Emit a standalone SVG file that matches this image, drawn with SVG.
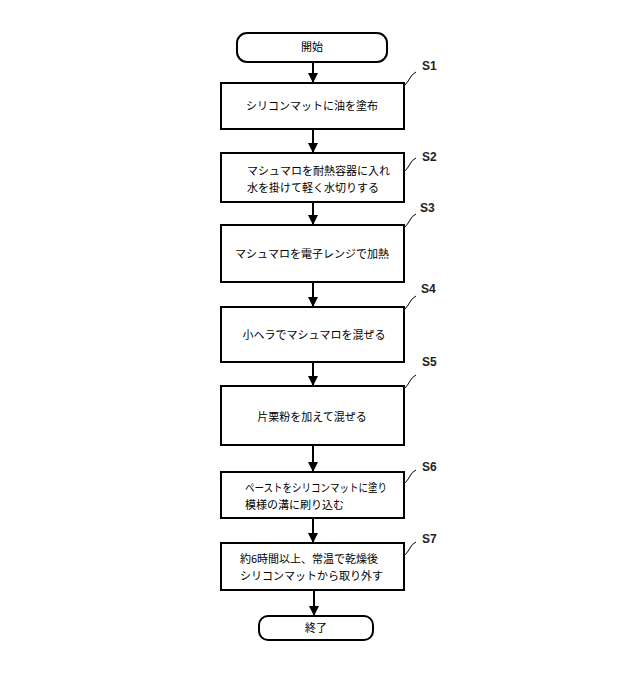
<svg xmlns="http://www.w3.org/2000/svg" width="640" height="673" viewBox="0 0 640 673">
<defs>
<marker id="ah" markerWidth="10" markerHeight="10" refX="9" refY="5" orient="auto" markerUnits="userSpaceOnUse"><path d="M0,0 L10,5 L0,10 Z" fill="#000"/></marker>
<style>
.b{fill:#fff;stroke:#000;stroke-width:2}
.t{font-family:"Noto Sans CJK JP",sans-serif;font-size:11px;fill:#000}
.c{text-anchor:middle}
.l{font-family:"Liberation Sans",sans-serif;font-size:12px;font-weight:bold;fill:#222}
.w{fill:none;stroke:#000;stroke-width:1}
.e{stroke:#000;stroke-width:2;fill:none}
</style>
</defs>
<rect width="640" height="673" fill="#fff"/>
<g id="start"><rect class="b" x="237" y="33" width="150" height="29" rx="10"/><text class="t c" x="312" y="51">開始</text></g>
<g id="s1"><rect class="b" x="221" y="83" width="183" height="46"/><text class="t c" x="312" y="110">シリコンマットに油を塗布</text><path class="w" d="M404,86 q4,-4 6,-8 q2,-4 6,-6"/><text class="l" x="422" y="70">S1</text></g>
<g id="s2"><rect class="b" x="221" y="153" width="183" height="49"/><text class="t" x="247" y="175">マシュマロを耐熱容器に入れ</text><text class="t" x="247" y="192">水を掛けて軽く水切りする</text><path class="w" d="M404,172 q4,-4 6,-8 q2,-4 6,-6"/><text class="l" x="422" y="161">S2</text></g>
<g id="s3"><rect class="b" x="221" y="225" width="183" height="57"/><text class="t c" x="312" y="258">マシュマロを電子レンジで加熱</text><path class="w" d="M404,228 q4,-4 6,-8 q2,-4 6,-6"/><text class="l" x="420" y="212">S3</text></g>
<g id="s4"><rect class="b" x="221" y="307" width="183" height="55"/><text class="t c" x="314" y="339">小ヘラでマシュマロを混ぜる</text><path class="w" d="M404,310 q4,-4 6,-8 q2,-4 6,-6"/><text class="l" x="421" y="293">S4</text></g>
<g id="s5"><rect class="b" x="221" y="386" width="183" height="59"/><text class="t c" x="312" y="421">片栗粉を加えて混ぜる</text><path class="w" d="M404,389 q4,-4 6,-8 q2,-4 6,-6"/><text class="l" x="422" y="366">S5</text></g>
<g id="s6"><rect class="b" x="221" y="472" width="183" height="46"/><text class="t" x="245" y="492" textLength="142" lengthAdjust="spacingAndGlyphs">ペーストをシリコンマットに塗り</text><text class="t" x="245" y="509">模様の溝に刷り込む</text><path class="w" d="M404,484 q4,-4 6,-8 q2,-4 6,-6"/><text class="l" x="422" y="471">S6</text></g>
<g id="s7"><rect class="b" x="221" y="543" width="183" height="47"/><text class="t" x="240" y="563">約6時間以上、常温で乾燥後</text><text class="t" x="240" y="580">シリコンマットから取り外す</text><path class="w" d="M404,556 q4,-4 6,-8 q2,-4 6,-6"/><text class="l" x="422" y="543">S7</text></g>
<g id="end"><rect class="b" x="259" y="616" width="114" height="24" rx="9"/><text class="t c" x="316" y="632">終了</text></g>
<g id="connectors">
<line class="e" x1="313" y1="62" x2="313" y2="82" marker-end="url(#ah)"/>
<line class="e" x1="313" y1="129" x2="313" y2="152" marker-end="url(#ah)"/>
<line class="e" x1="313" y1="202" x2="313" y2="224" marker-end="url(#ah)"/>
<line class="e" x1="313" y1="282" x2="313" y2="306" marker-end="url(#ah)"/>
<line class="e" x1="313" y1="362" x2="313" y2="385" marker-end="url(#ah)"/>
<line class="e" x1="313" y1="445" x2="313" y2="471" marker-end="url(#ah)"/>
<line class="e" x1="313" y1="518" x2="313" y2="542" marker-end="url(#ah)"/>
<line class="e" x1="314" y1="590" x2="314" y2="615" marker-end="url(#ah)"/>
</g>
</svg>
